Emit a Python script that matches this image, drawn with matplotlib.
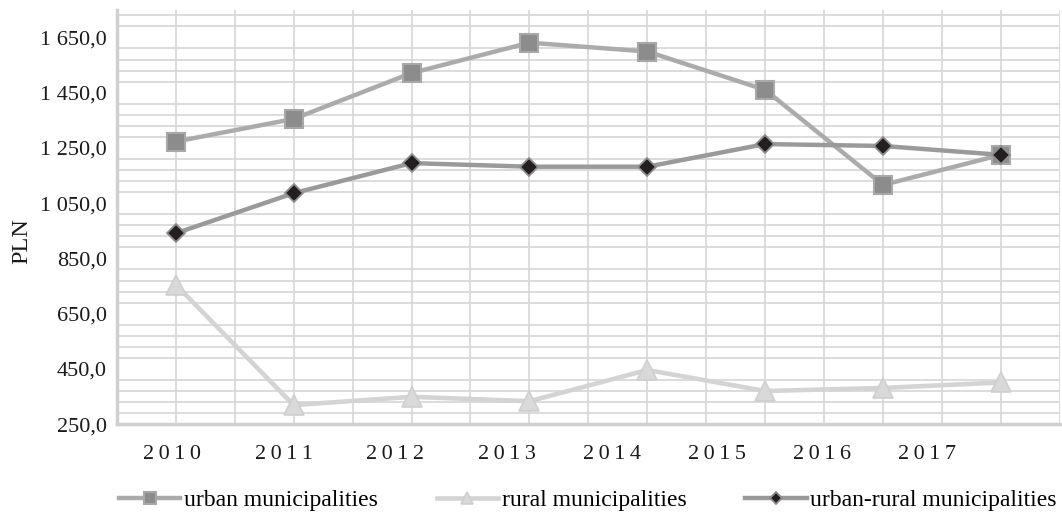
import matplotlib
matplotlib.use("Agg")
import matplotlib.pyplot as plt
from matplotlib.ticker import MultipleLocator, FixedLocator, FuncFormatter
import numpy as np

years = [2010, 2011, 2012, 2013, 2014, 2015, 2016, 2017]
urban = [1273, 1355, 1521, 1631, 1599, 1460, 1116, 1225]
rural = [755, 319, 349, 333, 446, 370, 381, 401]
urban_rural = [941, 1086, 1195, 1182, 1182, 1264, 1257, 1225]
year_labels = ["2010", "2011", "2012", "2013", "2014", "2015", "2016", "2017"]
# category label anchors along the x axis (labels drift left of the points)
year_label_pos = [2009.97, 2010.92, 2011.86, 2012.81, 2013.70, 2014.59, 2015.48, 2016.37]
series_names = ["urban municipalities", "rural municipalities", "urban-rural municipalities"]

plt.rcParams["font.family"] = ["Liberation Serif", "DejaVu Serif"]

fig = plt.figure(figsize=(10.62, 5.16), dpi=100)
ax = fig.add_axes([0.110, 0.178, 0.888, 0.803])

grid_c = "#D9D9D9"
ax.set_xlim(2009.5, 2017.5)
ax.set_ylim(250, 1750)

# light gridlines: every half category horizontally, every 40 PLN vertically
ax.xaxis.set_minor_locator(MultipleLocator(0.5))
ax.yaxis.set_minor_locator(FixedLocator(np.arange(250, 1750, 40)))
ax.grid(which="minor", color=grid_c, linewidth=1.3)
ax.grid(which="major", visible=False)
ax.tick_params(which="both", length=0)

ax.set_yticks(np.arange(250, 1651, 200))
ax.yaxis.set_major_formatter(FuncFormatter(
    lambda v, p: (f"{v:,.1f}").replace(",", " ").replace(".", ",")))
ax.tick_params(axis="y", labelsize=16, pad=7, colors="#1a1a1a")

# year labels are letter-spaced with thin spaces
ax.set_xticks(year_label_pos)
ax.set_xticklabels(["\u2009".join(lbl) for lbl in year_labels])
ax.tick_params(axis="x", labelsize=16, pad=15, colors="#1a1a1a")

for s in ["top", "right"]:
    ax.spines[s].set_visible(False)
for s in ["left", "bottom"]:
    ax.spines[s].set_color("#D0D0D0")
    ax.spines[s].set_linewidth(2.5)

ax.set_ylabel("PLN", fontsize=17.5, color="#1a1a1a")
ax.yaxis.set_label_coords(-0.090, 0.442)

l_rural, = ax.plot(years, rural, color="#D4D4D4", linewidth=3.3, marker="^",
                   markersize=14, markerfacecolor="#D9D9D9",
                   markeredgecolor="#CFCFCF", markeredgewidth=1.2,
                   label=series_names[1], zorder=3)
l_urban, = ax.plot(years, urban, color="#ABABAB", linewidth=3.2, marker="s",
                   markersize=13, markerfacecolor="#8C8C8D",
                   markeredgecolor="#A8A8A8", markeredgewidth=1.5,
                   label=series_names[0], zorder=4)
l_ur, = ax.plot(years, urban_rural, color="#9A9A9A", linewidth=3.2, marker="D",
                markersize=9, markerfacecolor="#231F20",
                markeredgecolor="#8F8F8F", markeredgewidth=1.3,
                label=series_names[2], zorder=5)

leg = fig.legend([l_urban, l_rural, l_ur], series_names, loc="center",
                 bbox_to_anchor=(0.5535, 0.031), ncol=3, frameon=False,
                 fontsize=17, handlelength=2.6, handletextpad=0.15,
                 columnspacing=2.5, markerscale=0.65,
                 borderpad=0, borderaxespad=0)

fig.savefig("out.png", dpi=100)
